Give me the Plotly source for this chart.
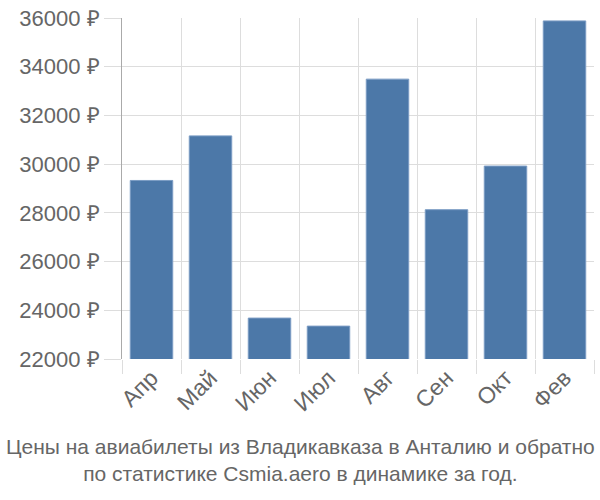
import plotly.graph_objects as go

months = ["Апр", "Май", "Июн", "Июл", "Авг", "Сен", "Окт", "Фев"]
prices = [29330, 31160, 23680, 23350, 33490, 28130, 29920, 35880]
y_ticks = [22000, 24000, 26000, 28000, 30000, 32000, 34000, 36000]
y_tick_labels = [f"{v} ₽" for v in y_ticks]
title_lines = ["Цены на авиабилеты из Владикавказа в Анталию и обратно",
               "по статистике Csmia.aero в динамике за год."]

font_family = "Liberation Sans, Arial, sans-serif"
text_color = "#666666"

fig = go.Figure(go.Bar(
    x=months, y=prices,
    marker=dict(color="#4c78a8", line=dict(color="#7b9cc4", width=1)),
    width=0.72,
))

fig.update_layout(
    width=600, height=500,
    margin=dict(l=122, r=6, t=14, b=141),
    plot_bgcolor="white", paper_bgcolor="white",
    showlegend=False,
    font=dict(family=font_family, color=text_color),
    bargap=0.28,
)
fig.update_xaxes(
    type="category",
    tickson="boundaries",
    showgrid=True, gridcolor="#dddddd", gridwidth=1,
    ticks="outside", ticklen=14, tickcolor="#dddddd",
    tickangle=-45,
    tickfont=dict(size=23, color=text_color),
    showline=False,
)
fig.update_yaxes(
    range=[22000, 36000],
    tickvals=y_ticks, ticktext=y_tick_labels,
    showgrid=True, gridcolor="#dddddd", gridwidth=1,
    ticks="outside", ticklen=17, tickcolor="#dddddd",
    tickfont=dict(size=22, color=text_color),
    showline=True, linecolor="#aaaaaa", linewidth=1,
    zeroline=False,
)
fig.add_annotation(
    text="<br>".join(title_lines),
    xref="paper", yref="paper", x=0.5, y=0, xanchor="center", yanchor="top",
    xshift=-58, yshift=-74,
    showarrow=False,
    font=dict(size=21, color=text_color, family=font_family),
    align="center",
)
fig.write_html("out.html")
